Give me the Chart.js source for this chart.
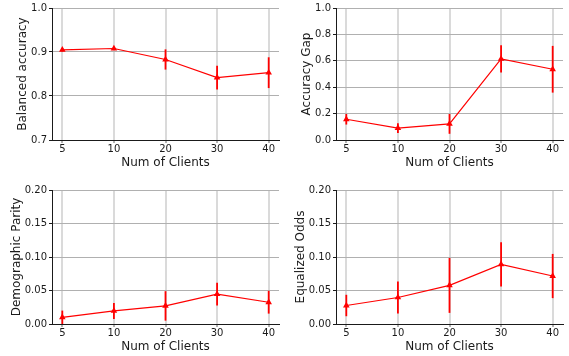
<!DOCTYPE html>
<html>
<head>
<meta charset="utf-8">
<script src="https://cdn.jsdelivr.net/npm/chart.js@4/dist/chart.umd.min.js"></script>
<style>
  html, body { margin: 0; padding: 0; background: #ffffff; }
  #wrap { position: relative; width: 569px; height: 356px; overflow: hidden; }
  canvas { position: absolute; left: 0; top: 0; }
</style>
</head>
<body>
<div id="wrap">
  <canvas id="c1" width="569" height="356"></canvas>
  <canvas id="c2" width="569" height="356"></canvas>
  <canvas id="c3" width="569" height="356"></canvas>
  <canvas id="c4" width="569" height="356"></canvas>
</div>
<script>
// ---- data ----
const clients = ['5', '10', '20', '30', '40'];

const balancedAccuracy    = [0.905, 0.908, 0.883, 0.842, 0.853];
const balancedAccuracyErr = [0.004, 0.003, 0.023, 0.027, 0.035];

const accuracyGap    = [0.157, 0.090, 0.122, 0.614, 0.536];
const accuracyGapErr = [0.040, 0.037, 0.075, 0.103, 0.177];

const demographicParity    = [0.0100, 0.0195, 0.0270, 0.0445, 0.0325];
const demographicParityErr = [0.0100, 0.0120, 0.0220, 0.0170, 0.0170];

const equalizedOdds    = [0.0276, 0.0396, 0.0576, 0.0890, 0.0716];
const equalizedOddsErr = [0.0160, 0.0240, 0.0410, 0.0330, 0.0330];

const balancedTicks = [0.7, 0.8, 0.9, 1.0];
const gapTicks      = [0.0, 0.2, 0.4, 0.6, 0.8, 1.0];
const fairTicks     = [0.00, 0.05, 0.10, 0.15, 0.20];

const xLabel = 'Num of Clients';

// ---- helpers ----
const FONT = "'DejaVu Sans', 'Liberation Sans', sans-serif";
const errorBarPlugin = {
  id: 'errorBars',
  beforeDatasetsDraw(chart) {
    const errs = chart.options.plugins.errorBars.errors;
    const vals = chart.data.datasets[0].data;
    const xs = chart.scales.x, ys = chart.scales.y;
    const ctx = chart.ctx;
    ctx.save();
    ctx.strokeStyle = '#ff0000';
    ctx.lineWidth = 1.8;
    vals.forEach((p, i) => {
      const x = xs.getPixelForValue(p.x);
      ctx.beginPath();
      ctx.moveTo(x, ys.getPixelForValue(p.y + errs[i]));
      ctx.lineTo(x, ys.getPixelForValue(p.y - errs[i]));
      ctx.stroke();
    });
    ctx.restore();
  }
};

function makeChart(id, values, errs, yTicks, decimals, yTitle, pad, yTitlePad) {
  const pts = values.map((v, i) => ({ x: i, y: v }));
  new Chart(document.getElementById(id), {
    type: 'line',
    data: {
      datasets: [{
        data: pts,
        borderColor: '#ff0000',
        backgroundColor: '#ff0000',
        borderWidth: 1.2,
        pointStyle: 'triangle',
        pointRadius: 3.8,
        pointBorderWidth: 0,
        pointBackgroundColor: '#ff0000',
        tension: 0,
        clip: false
      }]
    },
    options: {
      responsive: false,
      animation: false,
      devicePixelRatio: 1,
      events: [],
      layout: { padding: pad },
      plugins: {
        legend: { display: false },
        tooltip: { enabled: false },
        errorBars: { errors: errs }
      },
      scales: {
        x: {
          type: 'linear',
          min: -0.2,
          max: clients.length - 1 + 0.2,
          afterBuildTicks: (axis) => { axis.ticks = clients.map((c, i) => ({ value: i })); },
          afterFit: (scale) => { scale.height = 30; },
          ticks: {
            callback: (v) => clients[v],
            font: { family: FONT, size: 10 },
            color: '#1a1a1a',
            padding: 0,
            maxRotation: 0,
            autoSkip: false
          },
          grid: { color: '#dadada', lineWidth: 2, tickColor: '#666666', tickWidth: 1, tickLength: 3, drawTicks: true },
          border: { display: true, color: '#1a1a1a', width: 1 },
          title: { display: true, text: xLabel, font: { family: FONT, size: 12 }, color: '#1a1a1a', padding: { top: 0, bottom: 0 } }
        },
        y: {
          type: 'linear',
          min: yTicks[0],
          max: yTicks[yTicks.length - 1],
          afterBuildTicks: (axis) => { axis.ticks = yTicks.map(v => ({ value: v })); },
          afterFit: (scale) => { scale.width = 52; },
          ticks: {
            callback: (v) => Number(v).toFixed(decimals),
            font: { family: FONT, size: 10 },
            color: '#1a1a1a',
            padding: 2,
            autoSkip: false
          },
          grid: { color: '#b0b0b0', lineWidth: 1, tickColor: '#1a1a1a', tickLength: 3, drawTicks: true },
          border: { display: true, color: '#1a1a1a', width: 1 },
          title: { display: true, text: yTitle, font: { family: FONT, size: 12 }, color: '#1a1a1a', padding: { top: yTitlePad, bottom: 0 } }
        }
      }
    },
    plugins: [errorBarPlugin]
  });
}

makeChart('c1', balancedAccuracy, balancedAccuracyErr, balancedTicks, 1, 'Balanced accuracy',
  { left: 0, top: 7, right: 290, bottom: 186 }, 15.8);
makeChart('c2', accuracyGap, accuracyGapErr, gapTicks, 1, 'Accuracy Gap',
  { left: 284, top: 7, right: 6, bottom: 186 }, 15.5);
makeChart('c3', demographicParity, demographicParityErr, fairTicks, 2, 'Demographic Parity',
  { left: 0, top: 190, right: 290, bottom: 2 }, 9.8);
makeChart('c4', equalizedOdds, equalizedOddsErr, fairTicks, 2, 'Equalized Odds',
  { left: 284, top: 190, right: 6, bottom: 2 }, 9.2);
</script>
</body>
</html>
